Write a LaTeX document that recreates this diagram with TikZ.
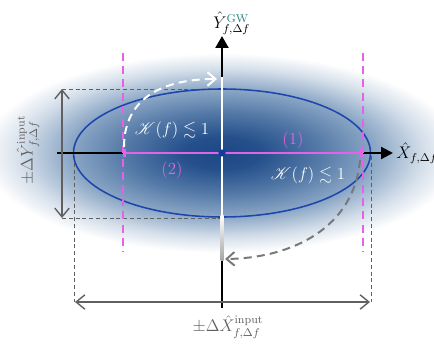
\documentclass[tikz,border=0pt]{standalone}
\usepackage{amsmath}
\usepackage{amssymb}
\usepackage{mathrsfs}
\usepackage{xcolor}
\usetikzlibrary{
    arrows.meta,
    positioning,
    calc
}
\definecolor{gwblue}{RGB}{28,72,134}
\definecolor{haze}{RGB}{112,146,184}
\definecolor{rimblue}{RGB}{28,70,172}
\definecolor{dotblue}{RGB}{20,60,160}
\definecolor{pinkish}{RGB}{228,98,232}
\definecolor{gwteal}{RGB}{38,128,128}
\definecolor{dimgray}{RGB}{96,96,96}
\pgfdeclareradialshading{glow}{\pgfpoint{0bp}{0bp}}{%
    color(0bp)=(gwblue);
    color(4bp)=(gwblue!90!haze);
    color(10bp)=(gwblue!35!haze);
    color(16bp)=(haze!80!white);
    color(21bp)=(haze!30!white);
    color(25bp)=(white);
    color(50bp)=(white)}
\tikzstyle{axis} = [
    line width=1.5pt,
    draw=black
]
\tikzstyle{bound} = [
    pinkish,
    line width=1.4pt,
    dash pattern=on 2mm off 1.3mm
]
\tikzstyle{guide} = [
    dimgray,
    line width=0.7pt,
    dash pattern=on 1mm off 0.7mm
]
\tikzstyle{span} = [
    {Straight Barb[length=2.2mm,width=3.6mm]}-{Straight Barb[length=2.2mm,width=3.6mm]},
    dimgray,
    line width=1pt
]
\tikzstyle{swing} = [
    -{Straight Barb[length=2mm,width=3.4mm]},
    line width=1.4pt,
    dash pattern=on 2mm off 1.3mm
]

\begin{document}
\begin{tikzpicture}[x=0.25mm, y=-0.25mm]
        \useasboundingbox (0,0) rectangle (434,345);

        % Gaussian cloud
        \begin{scope}
            \clip (0,0) rectangle (434,345);
            \shade[shading=glow] (222,153) ellipse [x radius=240, y radius=100];
        \end{scope}

        % Key points
        \coordinate (o) at (222,153);
        \coordinate (xl) at (57,153);
        \coordinate (xr) at (393,153);
        \coordinate (yt) at (222,36);
        \coordinate (yb) at (222,308);
        \coordinate (wtop) at (222,77);
        \coordinate (wlow) at (222,215);
        \coordinate (gend) at (222,260);

        % Dashed extent guides
        \draw[guide] (62,89) -- (222,89);
        \draw[guide] (62,218) -- (222,218);
        \draw[guide] (74,156) -- (74,302);
        \draw[guide] (371,156) -- (371,302);

        % Error ellipse
        \draw[rimblue, line width=1.1pt] (o) ellipse [x radius=148.5, y radius=64];

        % Horizontal axis
        \draw[axis, -{Triangle[length=3mm,width=3mm]}] (xl) -- (xr);

        % Vertical axis (black / white / fading)
        \draw[axis, line width=2pt] (yb) -- (gend);
        \shade[top color=white, bottom color=gray!70] (220.5,215) rectangle (223.5,260);
        \draw[white, line width=2pt] (wlow) -- (wtop);
        \draw[axis, line width=2pt, -{Triangle[length=3mm,width=3.2mm]}] (wtop) -- (yt);

        % Squeezing interval
        \draw[pinkish, line width=1.8pt, {Bar[width=2mm]}-{Bar[width=2mm]}] (123,153) -- (363,153);
        \draw[bound] (123,53) -- (123,252);
        \draw[bound] (363,53) -- (363,252);
        \fill[dotblue] (o) circle (3.6);

        % Rotation arrows
        \draw[swing, white] (124,147) .. controls (124,96) and (166,79) .. (217,79);
        \draw[swing, dimgray!85] (360,160) .. controls (354,228) and (292,258) .. (225,259);

        % Extent arrows
        \draw[span] (75,302) -- (370,302);
        \draw[span] (62,89) -- (62,218);

        % Axis labels
        \node[anchor=south west, inner sep=0pt, font=\large] (ylab) at (213,35)
            {$\hat{Y}^{\textcolor{gwteal}{\mathrm{GW}}}_{f,\Delta f}$};
        \node[anchor=west, inner sep=0.8mm, font=\large] (xlab) at (xr) {$\hat{X}_{f,\Delta f}$};

        % Extent labels
        \node[dimgray, rotate=90, font=\large] (dylab) at (28,150)
            {$\pm\Delta\hat{Y}^{\mathrm{input}}_{f,\Delta f}$};
        \node[dimgray, font=\large] (dxlab) at (228,327)
            {$\pm\Delta\hat{X}^{\mathrm{input}}_{f,\Delta f}$};

        % Region labels
        \node[white, font=\large] (kup) at (172,130) {$\mathscr{K}(f)\lesssim 1$};
        \node[white, font=\large] (kdown) at (308,175) {$\mathscr{K}(f)\lesssim 1$};
        \node[pinkish, font=\large] (one) at (293,140) {(1)};
        \node[pinkish, font=\large] (two) at (172,170) {(2)};
    \end{tikzpicture}
\end{document}
